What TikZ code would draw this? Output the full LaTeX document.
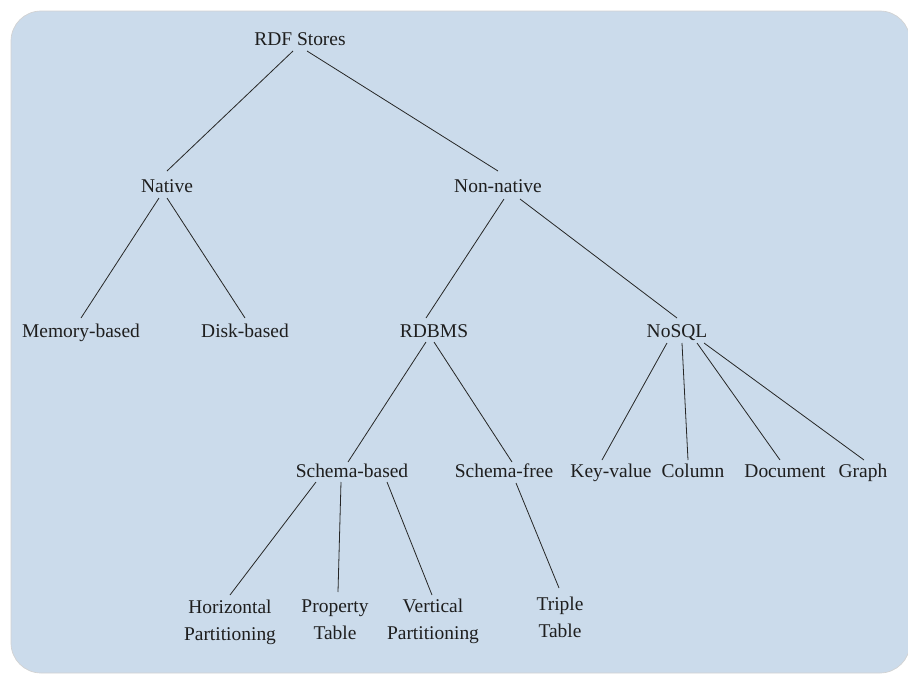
\documentclass[tikz,border=0pt]{standalone}
\usepackage{fontspec}
\setmainfont{Liberation Serif}
\usetikzlibrary{calc}
\definecolor{bgblue}{RGB}{203,219,235}
\definecolor{txt}{RGB}{30,30,30}
\tikzset{
  lbl/.style={inner sep=0pt, anchor=base, align=center, text=txt,
    font=\fontsize{14.6}{20.25}\selectfont},
  edge/.style={draw=black!85, line width=0.6pt},
}
\begin{document}
\begin{tikzpicture}[x=0.75pt,y=-0.75pt]
\useasboundingbox (0,0) rectangle (908,675);
\begin{scope}
\clip (0,0) rectangle (908,675);
\path[fill=bgblue, draw=gray!35, line width=0.5pt, rounded corners=22.5pt] (11,11) rectangle (910,673);
\end{scope}

\node[lbl] (rdf) at (300,45) {RDF Stores};
\node[lbl] (native) at (167,192) {Native};
\node[lbl] (nonnative) at (498,192) {Non-native};
\node[lbl] (memory) at (81,337) {Memory-based};
\node[lbl] (disk) at (245,337) {Disk-based};
\node[lbl] (rdbms) at (434,337) {RDBMS};
\node[lbl] (nosql) at (677,337) {NoSQL};
\node[lbl] (sbased) at (352,477) {Schema-based};
\node[lbl] (sfree) at (504,477) {Schema-free};
\node[lbl] (keyvalue) at (611,477) {Key-value};
\node[lbl] (column) at (693,477) {Column};
\node[lbl] (document) at (785,477) {Document};
\node[lbl] (graph) at (863,477) {Graph};
\node[lbl] (horiz) at (230,640) {Horizontal\\Partitioning};
\node[lbl] (prop) at (335,639) {Property\\Table};
\node[lbl] (vert) at (433,639) {Vertical\\Partitioning};
\node[lbl] (triple) at (560,637) {Triple\\Table};

\draw[edge] ($(rdf.base)+(-7,6)$) -- ($(native.base)+(0,-21)$);
\draw[edge] ($(rdf.base)+(7,6)$) -- ($(nonnative.base)+(0,-21)$);
\draw[edge] ($(native.base)+(-8,6)$) -- ($(memory.base)+(0,-19)$);
\draw[edge] ($(native.base)+(0,6)$) -- ($(disk.base)+(0,-19)$);
\draw[edge] ($(nonnative.base)+(6,7)$) -- ($(rdbms.base)+(-8,-19)$);
\draw[edge] ($(nonnative.base)+(22,7)$) -- ($(nosql.base)+(0,-19)$);
\draw[edge] ($(rdbms.base)+(-8,5)$) -- ($(sbased.base)+(-4,-15)$);
\draw[edge] ($(rdbms.base)+(0,5)$) -- ($(sfree.base)+(8,-15)$);
\draw[edge] ($(nosql.base)+(-10,6)$) -- ($(keyvalue.base)+(-9,-17)$);
\draw[edge] ($(nosql.base)+(5,6)$) -- ($(column.base)+(-5,-17)$);
\draw[edge] ($(nosql.base)+(20,6)$) -- ($(document.base)+(-5,-17)$);
\draw[edge] ($(nosql.base)+(27,6)$) -- ($(graph.base)+(1,-17)$);
\draw[edge] ($(sbased.base)+(-36,5)$) -- ($(horiz.base)+(0,-45)$);
\draw[edge] ($(sbased.base)+(-11,5)$) -- ($(prop.base)+(3,-47)$);
\draw[edge] ($(sbased.base)+(35,5)$) -- ($(vert.base)+(-1,-44)$);
\draw[edge] ($(sfree.base)+(12,6)$) -- ($(triple.base)+(-1,-49)$);
\end{tikzpicture}
\end{document}
